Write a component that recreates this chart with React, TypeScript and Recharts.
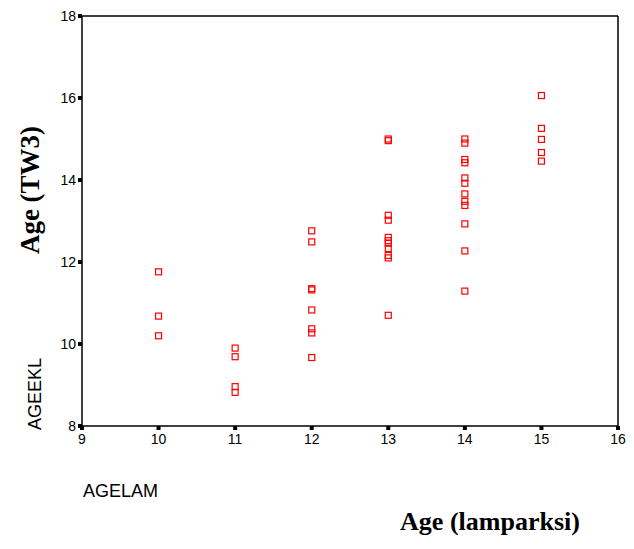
import React from "react";
import {
  ScatterChart,
  Scatter,
  XAxis,
  YAxis,
  ReferenceLine,
  Label,
} from "recharts";

// lamparksi age groups (x) and the TW3 ages read for each group (y)
const lampAges = [10, 11, 12, 13, 14, 15];
const tw3Ages = [
  [11.76, 10.68, 10.2],
  [9.9, 9.69, 8.96, 8.82],
  [12.76, 12.49, 11.35, 11.32, 10.83, 10.37, 10.27, 9.67],
  [15.0, 14.96, 13.14, 13.02, 12.6, 12.52, 12.46, 12.33, 12.16, 12.1, 10.7],
  [15.0, 14.9, 14.5, 14.42, 14.05, 13.92, 13.66, 13.48, 13.38, 12.93, 12.27, 11.29],
  [16.06, 15.26, 14.99, 14.67, 14.46],
];
const xTicks = [9, 10, 11, 12, 13, 14, 15, 16];
const yTicks = [8, 10, 12, 14, 16, 18];

const points = lampAges.flatMap((x, i) =>
  tw3Ages[i].map((y) => ({ agelam: x, ageekl: y }))
);

const sans = "'Liberation Sans', Arial, sans-serif";
const serif = "'Liberation Serif', 'Times New Roman', serif";

const SquareMarker = (props: any) => {
  const { cx, cy } = props;
  return (
    <rect
      x={cx - 3}
      y={cy - 3}
      width={6}
      height={6}
      fill="none"
      stroke="#ff0000"
      strokeWidth={1.2}
    />
  );
};

const App = () => (
  <ScatterChart
    width={626}
    height={541}
    margin={{ top: 8, right: 16, bottom: 0, left: 0 }}
  >
    <XAxis
      type="number"
      dataKey="agelam"
      domain={[9, 16]}
      ticks={xTicks}
      interval={0}
      height={123}
      axisLine={{ stroke: "#000", strokeWidth: 1.5 }}
      tickLine={{ stroke: "#000", strokeWidth: 4 }}
      tickSize={4}
      tickMargin={4}
      tick={{ fill: "#000", fontSize: 14, fontFamily: sans }}
    >
      <Label
        content={(p: any) => (
          <g>
            <text
              x={p.viewBox.x + 1}
              y={p.viewBox.y + 71}
              fontSize={18}
              fontFamily={sans}
              fill="#000"
            >
              AGELAM
            </text>
            <text
              x={p.viewBox.x + 408}
              y={p.viewBox.y + 104}
              fontSize={26}
              fontWeight="bold"
              fontFamily={serif}
              textAnchor="middle"
              fill="#000"
            >
              Age (lamparksi)
            </text>
          </g>
        )}
      />
    </XAxis>
    <YAxis
      type="number"
      dataKey="ageekl"
      domain={[8, 18]}
      ticks={yTicks}
      interval={0}
      width={74}
      axisLine={{ stroke: "#000", strokeWidth: 1.5 }}
      tickLine={{ stroke: "#000", strokeWidth: 4 }}
      tickSize={4}
      tickMargin={2}
      tick={{ fill: "#000", fontSize: 14, fontFamily: sans }}
    >
      <Label
        content={() => (
          <g>
            <text
              x={22}
              y={182}
              transform="rotate(-90, 22, 182)"
              fontSize={27}
              fontWeight="bold"
              fontFamily={serif}
              textAnchor="middle"
              dominantBaseline="central"
              fill="#000"
            >
              Age (TW3)
            </text>
            <text
              x={27}
              y={386}
              transform="rotate(-90, 27, 386)"
              fontSize={18}
              fontFamily={sans}
              textAnchor="middle"
              dominantBaseline="central"
              fill="#000"
            >
              AGEEKL
            </text>
          </g>
        )}
      />
    </YAxis>
    <ReferenceLine y={18} stroke="#000" strokeWidth={1.5} />
    <ReferenceLine x={16} stroke="#000" strokeWidth={1.5} />
    <Scatter data={points} shape={SquareMarker} isAnimationActive={false} />
  </ScatterChart>
);

export default App;
